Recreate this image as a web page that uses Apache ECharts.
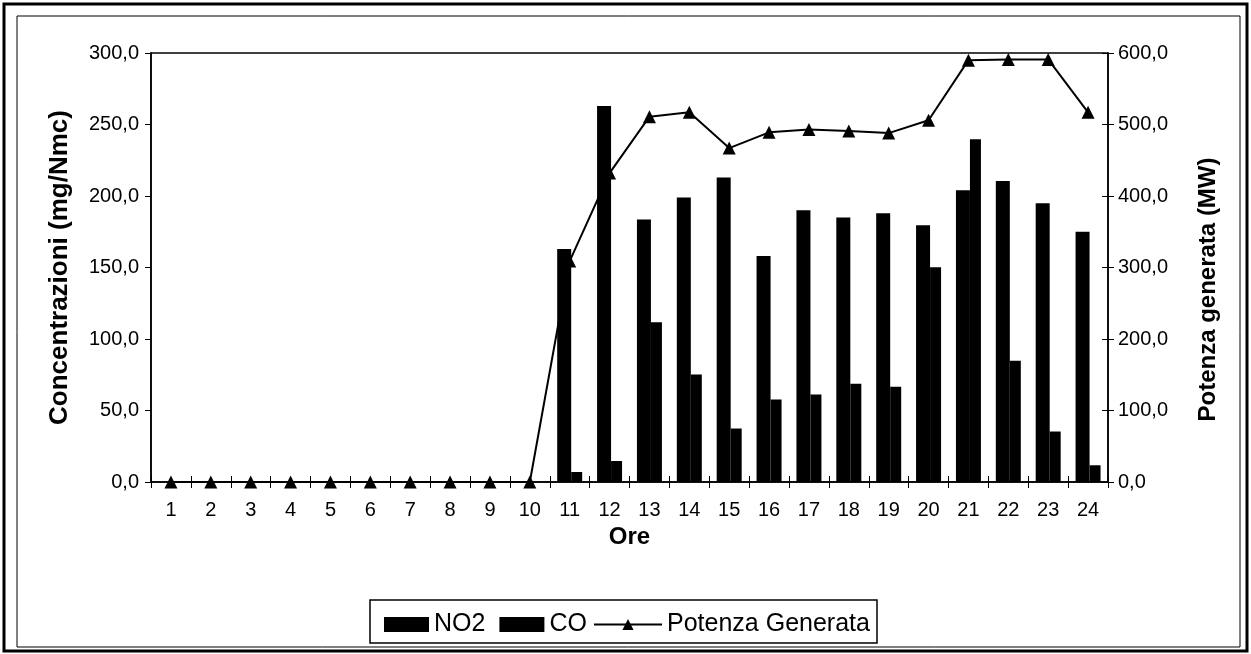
<!DOCTYPE html>
<html>
<head>
<meta charset="utf-8">
<script src="https://cdn.jsdelivr.net/npm/echarts@6/dist/echarts.min.js"></script>
<style>
html,body{margin:0;padding:0;background:#fff;}
#chart{width:1251px;height:654px;}
</style>
</head>
<body>
<div id="chart"></div>
<script>
var hours = ['1','2','3','4','5','6','7','8','9','10','11','12','13','14','15','16','17','18','19','20','21','22','23','24'];
var no2 = [0,0,0,0,0,0,0,0,0,0,163,263,183.5,199,213,158,190,185,188,179.5,204,210.5,195,175];
var co = [0,0,0,0,0,0,0,0,0,0,7,14.7,111.7,75.2,37.4,57.7,61.2,68.7,66.6,150.2,239.7,84.8,35.3,11.7];
var power = [0,0,0,0,0,0,0,0,0,0,309,432,511,517,467,489,493,491,488,506,590,591,591,517];

var FONT = 'Arial, "Liberation Sans", sans-serif';
function fmt(v){ return v.toFixed(1).replace('.', ','); }

var chart = echarts.init(document.getElementById('chart'));
chart.setOption({
  animation: false,
  backgroundColor: '#fff',
  textStyle: {fontFamily: FONT, color: '#000'},
  grid: {left: 151, right: 143, top: 53, bottom: 172, show: true, borderColor: '#000', borderWidth: 1.5},
  graphic: [
    {type: 'rect', shape: {x: 4, y: 4, width: 1243, height: 647}, style: {fill: 'none', stroke: '#000', lineWidth: 3}},
    {type: 'rect', shape: {x: 17, y: 16, width: 1223, height: 631}, style: {fill: 'none', stroke: '#000', lineWidth: 1}},
    {type: 'rect', shape: {x: 370, y: 600, width: 507, height: 43}, style: {fill: '#fff', stroke: '#000', lineWidth: 1.5}, z: -1}
  ],
  legend: [
    {data: ['NO2', 'CO'], left: 379, top: 607, itemWidth: 45, itemHeight: 15, itemGap: 14, icon: 'rect',
     textStyle: {fontSize: 25, fontFamily: FONT, color: '#000'}},
    {data: ['Potenza Generata'], left: 588, top: 607, itemWidth: 68, itemHeight: 14,
     textStyle: {fontSize: 25, fontFamily: FONT, color: '#000'}}
  ],
  xAxis: [
    {type: 'category', data: hours, position: 'bottom',
     name: 'Ore', nameLocation: 'middle', nameGap: 43,
     nameTextStyle: {fontSize: 24, fontWeight: 'bold', fontFamily: FONT, color: '#000'},
     axisLine: {lineStyle: {color: '#000', width: 1.5}},
     axisTick: {show: true, length: 6, lineStyle: {color: '#000', width: 1}},
     axisLabel: {fontSize: 20, color: '#000', margin: 18, fontFamily: FONT}},
    {type: 'category', data: hours, position: 'bottom', gridIndex: 0,
     axisLine: {show: false}, axisLabel: {show: false},
     axisTick: {show: true, inside: true, length: 6, lineStyle: {color: '#000', width: 1}}}
  ],
  yAxis: [
    {type: 'value', min: 0, max: 300, interval: 50, position: 'left',
     name: 'Concentrazioni (mg/Nmc)', nameLocation: 'middle', nameGap: 78, nameRotate: 90,
     nameTextStyle: {fontSize: 26, fontWeight: 'bold', fontFamily: FONT, color: '#000'},
     axisLine: {show: true, lineStyle: {color: '#000', width: 1.5}},
     axisTick: {show: true, length: 6, lineStyle: {color: '#000'}},
     splitLine: {show: false},
     axisLabel: {fontSize: 20, color: '#000', margin: 12, formatter: fmt, fontFamily: FONT}},
    {type: 'value', min: 0, max: 600, interval: 100, position: 'right',
     name: 'Potenza generata (MW)', nameLocation: 'middle', nameGap: 88, nameRotate: 90,
     nameTextStyle: {fontSize: 24, fontWeight: 'bold', fontFamily: FONT, color: '#000', padding: [0, 44, 0, 0]},
     axisLine: {show: true, lineStyle: {color: '#000', width: 1.5}},
     axisTick: {show: true, length: 6, lineStyle: {color: '#000'}},
     splitLine: {show: false},
     axisLabel: {fontSize: 20, color: '#000', margin: 10, formatter: fmt, fontFamily: FONT}},
    {type: 'value', min: 0, max: 600, interval: 100, position: 'right',
     axisLine: {show: false}, axisLabel: {show: false}, splitLine: {show: false},
     axisTick: {show: true, inside: true, length: 6, lineStyle: {color: '#000'}}}
  ],
  series: [
    {name: 'NO2', type: 'bar', data: no2, barWidth: 14, barGap: '0%', itemStyle: {color: '#000'}, z: 2},
    {name: 'CO', type: 'bar', data: co, barWidth: 11, barGap: '0%', itemStyle: {color: '#000'}, z: 2},
    {name: 'Potenza Generata', type: 'line', yAxisIndex: 1, data: power,
     symbol: 'triangle', symbolSize: 13, showAllSymbol: true,
     lineStyle: {color: '#000', width: 2}, itemStyle: {color: '#000'}, z: 5}
  ]
});
</script>
</body>
</html>
